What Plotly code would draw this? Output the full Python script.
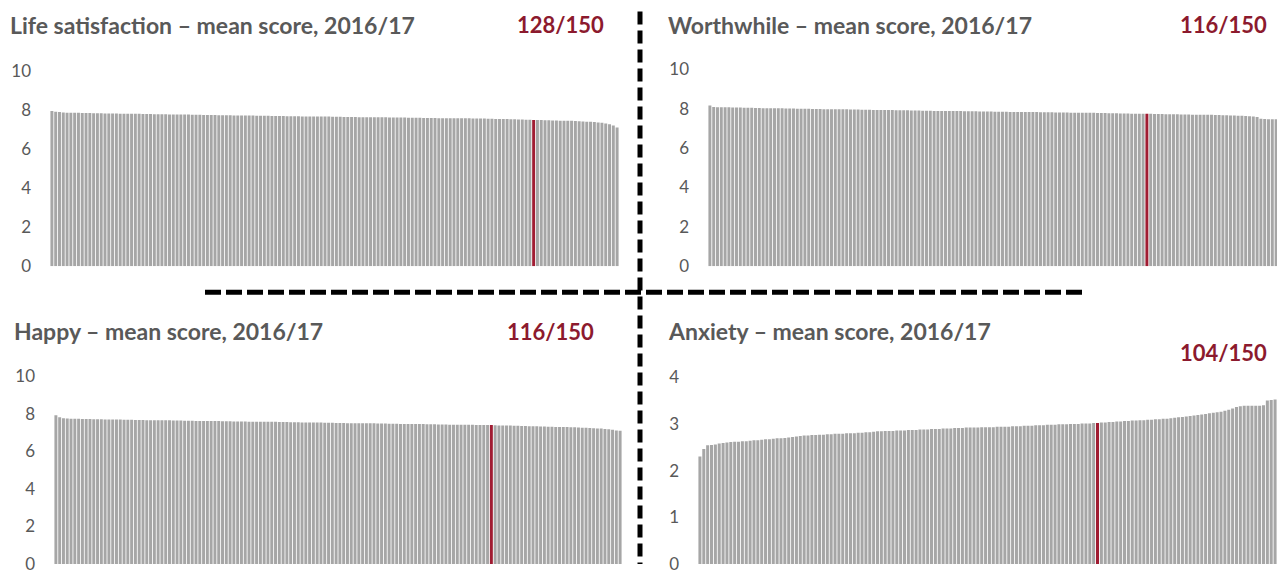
import plotly.graph_objects as go

# ---------------- data ----------------
life_satisfaction = [
    7.97, 7.93, 7.91, 7.89, 7.88, 7.88, 7.87, 7.87, 7.86, 7.86,
    7.86, 7.85, 7.85, 7.85, 7.84, 7.84, 7.84, 7.84, 7.83, 7.83,
    7.83, 7.82, 7.82, 7.82, 7.81, 7.81, 7.81, 7.80, 7.80, 7.80,
    7.80, 7.79, 7.79, 7.79, 7.78, 7.78, 7.78, 7.77, 7.77, 7.77,
    7.76, 7.76, 7.76, 7.76, 7.75, 7.75, 7.75, 7.75, 7.74, 7.74,
    7.74, 7.73, 7.73, 7.73, 7.72, 7.72, 7.72, 7.72, 7.71, 7.71,
    7.71, 7.71, 7.70, 7.70, 7.70, 7.70, 7.69, 7.69, 7.69, 7.69,
    7.68, 7.68, 7.68, 7.68, 7.67, 7.67, 7.67, 7.66, 7.66, 7.66,
    7.66, 7.65, 7.65, 7.65, 7.65, 7.64, 7.64, 7.64, 7.64, 7.63,
    7.63, 7.63, 7.63, 7.63, 7.62, 7.62, 7.62, 7.62, 7.61, 7.61,
    7.61, 7.61, 7.60, 7.60, 7.60, 7.60, 7.60, 7.59, 7.59, 7.59,
    7.59, 7.58, 7.58, 7.58, 7.58, 7.57, 7.57, 7.56, 7.56, 7.55,
    7.55, 7.54, 7.54, 7.53, 7.53, 7.52, 7.52, 7.51, 7.50, 7.50,
    7.49, 7.49, 7.48, 7.48, 7.47, 7.47, 7.46, 7.46, 7.45, 7.44,
    7.43, 7.42, 7.41, 7.40, 7.38, 7.36, 7.33, 7.29, 7.22, 7.12,
]
worthwhile = [
    8.17, 8.09, 8.08, 8.08, 8.07, 8.07, 8.06, 8.06, 8.06, 8.05,
    8.05, 8.05, 8.04, 8.04, 8.03, 8.03, 8.03, 8.02, 8.02, 8.02,
    8.01, 8.01, 8.01, 8.00, 8.00, 8.00, 8.00, 7.99, 7.99, 7.99,
    7.98, 7.98, 7.98, 7.98, 7.97, 7.97, 7.97, 7.96, 7.96, 7.96,
    7.95, 7.95, 7.95, 7.94, 7.94, 7.94, 7.93, 7.93, 7.93, 7.92,
    7.92, 7.92, 7.92, 7.91, 7.91, 7.91, 7.90, 7.90, 7.90, 7.89,
    7.89, 7.89, 7.89, 7.88, 7.88, 7.88, 7.88, 7.87, 7.87, 7.87,
    7.87, 7.86, 7.86, 7.86, 7.86, 7.85, 7.85, 7.85, 7.85, 7.84,
    7.84, 7.84, 7.84, 7.83, 7.83, 7.83, 7.83, 7.82, 7.82, 7.82,
    7.82, 7.81, 7.81, 7.81, 7.81, 7.80, 7.80, 7.80, 7.80, 7.79,
    7.79, 7.79, 7.78, 7.78, 7.78, 7.77, 7.77, 7.77, 7.76, 7.76,
    7.76, 7.75, 7.75, 7.75, 7.74, 7.74, 7.74, 7.73, 7.73, 7.73,
    7.72, 7.72, 7.72, 7.72, 7.71, 7.71, 7.71, 7.70, 7.70, 7.70,
    7.70, 7.69, 7.69, 7.68, 7.68, 7.67, 7.67, 7.66, 7.66, 7.65,
    7.64, 7.63, 7.62, 7.61, 7.58, 7.49, 7.48, 7.47, 7.47, 7.46,
]
happy = [
    7.92, 7.82, 7.76, 7.75, 7.74, 7.73, 7.73, 7.72, 7.72, 7.72,
    7.71, 7.71, 7.71, 7.70, 7.70, 7.70, 7.69, 7.69, 7.68, 7.68,
    7.68, 7.67, 7.67, 7.67, 7.66, 7.66, 7.66, 7.66, 7.65, 7.65,
    7.65, 7.64, 7.64, 7.64, 7.63, 7.63, 7.63, 7.62, 7.62, 7.62,
    7.61, 7.61, 7.61, 7.61, 7.60, 7.60, 7.60, 7.59, 7.59, 7.59,
    7.59, 7.58, 7.58, 7.58, 7.58, 7.57, 7.57, 7.57, 7.57, 7.56,
    7.56, 7.56, 7.55, 7.55, 7.55, 7.54, 7.54, 7.54, 7.53, 7.53,
    7.53, 7.52, 7.52, 7.52, 7.51, 7.51, 7.51, 7.50, 7.50, 7.50,
    7.50, 7.49, 7.49, 7.49, 7.49, 7.48, 7.48, 7.48, 7.47, 7.47,
    7.47, 7.46, 7.46, 7.46, 7.45, 7.45, 7.45, 7.45, 7.44, 7.44,
    7.44, 7.43, 7.43, 7.43, 7.42, 7.42, 7.42, 7.41, 7.41, 7.41,
    7.41, 7.40, 7.40, 7.40, 7.40, 7.40, 7.39, 7.38, 7.38, 7.37,
    7.37, 7.36, 7.36, 7.35, 7.35, 7.34, 7.33, 7.33, 7.32, 7.32,
    7.31, 7.31, 7.30, 7.30, 7.29, 7.29, 7.28, 7.28, 7.27, 7.26,
    7.25, 7.24, 7.23, 7.22, 7.21, 7.19, 7.18, 7.15, 7.11, 7.09,
]
anxiety = [
    2.30, 2.46, 2.54, 2.55, 2.56, 2.58, 2.59, 2.60, 2.61, 2.62,
    2.62, 2.63, 2.63, 2.64, 2.65, 2.65, 2.66, 2.67, 2.67, 2.68,
    2.69, 2.69, 2.70, 2.71, 2.72, 2.73, 2.74, 2.75, 2.75, 2.76,
    2.76, 2.77, 2.77, 2.78, 2.78, 2.79, 2.79, 2.79, 2.80, 2.80,
    2.80, 2.81, 2.81, 2.82, 2.82, 2.83, 2.84, 2.84, 2.85, 2.85,
    2.85, 2.86, 2.86, 2.86, 2.87, 2.87, 2.87, 2.88, 2.88, 2.88,
    2.89, 2.89, 2.89, 2.90, 2.90, 2.90, 2.91, 2.91, 2.91, 2.92,
    2.92, 2.92, 2.92, 2.93, 2.93, 2.93, 2.93, 2.94, 2.94, 2.94,
    2.94, 2.95, 2.95, 2.95, 2.96, 2.96, 2.96, 2.97, 2.97, 2.97,
    2.98, 2.98, 2.98, 2.99, 2.99, 2.99, 3.00, 3.00, 3.00, 3.01,
    3.01, 3.01, 3.02, 3.02, 3.03, 3.03, 3.04, 3.04, 3.05, 3.05,
    3.06, 3.06, 3.07, 3.07, 3.08, 3.08, 3.09, 3.09, 3.10, 3.10,
    3.11, 3.11, 3.12, 3.13, 3.14, 3.15, 3.16, 3.17, 3.18, 3.19,
    3.20, 3.21, 3.23, 3.24, 3.25, 3.26, 3.28, 3.30, 3.33, 3.36,
    3.38, 3.39, 3.39, 3.39, 3.39, 3.39, 3.40, 3.50, 3.51, 3.52,
]

titles = [
    "Life satisfaction – mean score, 2016/17",
    "Worthwhile – mean score, 2016/17",
    "Happy – mean score, 2016/17",
    "Anxiety – mean score, 2016/17",
]
ranks = [128, 116, 116, 104]
total = 150
y_max = [10, 10, 10, 4]
y_ticks = [[0, 2, 4, 6, 8, 10], [0, 2, 4, 6, 8, 10], [0, 2, 4, 6, 8, 10], [0, 1, 2, 3, 4]]

series = [life_satisfaction, worthwhile, happy, anxiety]

# ---------------- styling / layout ----------------
W, H = 1277, 574
# the photographed page is squeezed vertically: image_y = OFF + SQ * page_y
OFF, SQ = 9.6, 0.964


def px(x):
    return min(max(x / W, 0.0), 1.0)


def page_y(y):
    return (y - OFF) / SQ


def py(y):
    return min(max(1 - page_y(y) / H, 0.0), 1.0)


GREY = "#A6A6A6"
RED = "#A01C32"
TXT_RED = "#8C1A2E"
TXT_GREY = "#595959"
FONT = "Lato, Open Sans, sans-serif"

# panel boxes in target pixels: (x_left, x_right, y_bottom, y_top)
panels = [
    (50, 619, 265, 70),
    (708, 1278, 265, 68),
    (54, 622, 563, 375),
    (698, 1277, 563, 376),
]
title_pos = [(8, 24), (666, 24), (12, 330), (666, 330)]
rank_pos = [(606, 23), (1269, 23), (596, 330), (1269, 351)]

fig = go.Figure()
layout = dict(
    width=W, height=H,
    margin=dict(l=0, r=0, t=0, b=0, pad=0),
    paper_bgcolor="white", plot_bgcolor="white",
    showlegend=False, bargap=0.22,
    font=dict(family=FONT, color=TXT_GREY),
    annotations=[], shapes=[],
)

for i, vals in enumerate(series):
    n = len(vals)
    cats = list(range(1, n + 1))
    colors = [RED if c == ranks[i] else GREY for c in cats]
    suffix = "" if i == 0 else str(i + 1)
    fig.add_trace(go.Bar(
        x=cats, y=vals, marker=dict(color=colors, line=dict(width=0)),
        xaxis="x" + suffix, yaxis="y" + suffix, hoverinfo="skip",
    ))
    xl, xr, yb, yt = panels[i]
    pitch = (xr - xl) / n
    xr_vis = min(xr, W)
    layout["xaxis" + suffix] = dict(
        domain=[px(xl), px(xr_vis)],
        range=[0.5, 0.5 + (xr_vis - xl) / pitch],
        anchor="y" + suffix, showticklabels=False, showgrid=False,
        zeroline=False, showline=False, ticks="", fixedrange=True,
    )
    layout["yaxis" + suffix] = dict(
        domain=[py(yb), py(yt)],
        range=[0, y_max[i]],
        anchor="x" + suffix, tickvals=y_ticks[i], showgrid=False,
        zeroline=False, showline=False, ticks="",
        ticklabelstandoff=18,
        tickfont=dict(size=17, color=TXT_GREY, family=FONT),
        fixedrange=True,
    )
    tx, ty = title_pos[i]
    layout["annotations"].append(dict(
        x=px(tx), y=py(ty), xref="paper", yref="paper",
        xanchor="left", yanchor="middle", showarrow=False,
        text="<b>" + titles[i] + "</b>",
        font=dict(size=23, color=TXT_GREY, family=FONT),
    ))
    rx, ry = rank_pos[i]
    layout["annotations"].append(dict(
        x=px(rx), y=py(ry), xref="paper", yref="paper",
        xanchor="right", yanchor="middle", showarrow=False,
        text="<b>%d/%d</b>" % (ranks[i], total),
        font=dict(size=22, color=TXT_RED, family=FONT),
    ))

# dashed separators
layout["shapes"].append(dict(
    type="line", xref="paper", yref="paper",
    x0=px(640), x1=px(640), y0=py(10), y1=0,
    line=dict(color="black", width=5, dash="13px,6px"),
))
layout["shapes"].append(dict(
    type="line", xref="paper", yref="paper",
    x0=px(205), x1=px(1082), y0=py(291), y1=py(291),
    line=dict(color="black", width=5, dash="16px,5px"),
))

fig.update_layout(**layout)
fig.write_html(
    "out.html",
    config={"displayModeBar": False},
    post_script=(
        "document.body.style.margin='0';"
        "document.body.style.overflow='hidden';"
        "document.documentElement.style.overflow='hidden';"
    ),
)
